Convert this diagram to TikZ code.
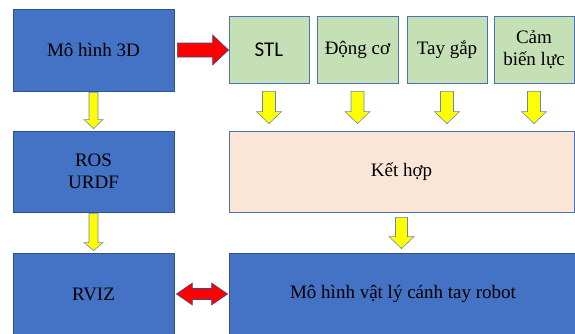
\documentclass[tikz,border=0pt]{standalone}
\usepackage{fontspec}
\setmainfont{Liberation Serif}
\newfontfamily\calib{Carlito}
\usetikzlibrary{calc}
\definecolor{bfill}{HTML}{4472C4}
\definecolor{bdraw}{HTML}{2F528F}
\definecolor{gfill}{HTML}{C5E0B4}
\definecolor{pfill}{HTML}{FBE5D6}
\definecolor{ldraw}{HTML}{4A72B8}
\definecolor{yfill}{HTML}{FFFF00}
\definecolor{ydraw}{HTML}{6A86B8}
\definecolor{rfill}{HTML}{FF0000}
\tikzset{
  boxbase/.style={rectangle, inner sep=0pt, line width=0.8pt, align=center,
    font=\fontsize{19}{21.5}\selectfont, text=black},
  bluebox/.style={boxbase, fill=bfill, draw=bdraw},
  greenbox/.style={boxbase, fill=gfill, draw=ldraw},
  peachbox/.style={boxbase, fill=pfill, draw=ldraw},
  yarr/.style={fill=yfill, draw=ydraw, line width=0.6pt, line join=miter},
  rarr/.style={fill=rfill, draw=bdraw, line width=0.6pt, line join=miter},
}
% down block arrow: style, top point, bottom point, shaft half, head half, head length
\newcommand\blockdown[6]{%
  \draw[#1] let \p1=#2, \p2=#3 in
    (\x1-#4pt,\y1) -- (\x1+#4pt,\y1) -- (\x1+#4pt,\y2+#6pt) -- (\x1+#5pt,\y2+#6pt)
    -- (\x1,\y2) -- (\x1-#5pt,\y2+#6pt) -- (\x1-#4pt,\y2+#6pt) -- cycle;}
% right block arrow
\newcommand\blockright[6]{%
  \draw[#1] let \p1=#2, \p2=#3 in
    (\x1,\y1+#4pt) -- (\x2-#6pt,\y1+#4pt) -- (\x2-#6pt,\y1+#5pt) -- (\x2,\y1)
    -- (\x2-#6pt,\y1-#5pt) -- (\x2-#6pt,\y1-#4pt) -- (\x1,\y1-#4pt) -- cycle;}
% double block arrow
\newcommand\blockboth[6]{%
  \draw[#1] let \p1=#2, \p2=#3 in
    (\x1,\y1) -- (\x1+#6pt,\y1+#5pt) -- (\x1+#6pt,\y1+#4pt) -- (\x2-#6pt,\y1+#4pt)
    -- (\x2-#6pt,\y1+#5pt) -- (\x2,\y1) -- (\x2-#6pt,\y1-#5pt) -- (\x2-#6pt,\y1-#4pt)
    -- (\x1+#6pt,\y1-#4pt) -- (\x1+#6pt,\y1-#5pt) -- cycle;}
\begin{document}
\begin{tikzpicture}[x=1pt,y=-1pt]
\useasboundingbox (0,0) rectangle (575,333);
% boxes
\node[bluebox, minimum width=161pt, minimum height=82pt] (m3d) at (93.5,50) {Mô hình 3D};
\node[greenbox, minimum width=80pt, minimum height=67pt, font=\calib\fontsize{21}{23}\selectfont] (stl) at (269,49.5) {STL};
\node[greenbox, minimum width=81pt, minimum height=67pt] (dc) at (357.5,49.5) {Động cơ};
\node[greenbox, minimum width=80pt, minimum height=67pt] (tg) at (447,49.5) {Tay gắp};
\node[greenbox, minimum width=80pt, minimum height=67pt] (cb) at (534,49.5) {Cảm\\biến lực};
\node[bluebox, minimum width=161pt, minimum height=81pt] (ros) at (93.5,171.5) {ROS\\URDF};
\node[peachbox, minimum width=345pt, minimum height=81pt] (kh) at (401.5,171.5) {Kết hợp};
\node[bluebox, minimum width=161pt, minimum height=82pt] (rviz) at (93.5,294) {RVIZ};
\node[bluebox, minimum width=348pt, minimum height=82pt] (mvl) at (403,294) {Mô hình vật lý cánh tay robot};
% arrows
\blockright{rarr}{($(m3d.east)+(3,0)$)}{(stl.west)}{7}{15}{16}
\blockboth{rarr}{($(rviz.east)+(2,0)$)}{($(mvl.west)+(-1,0)$)}{5.5}{11}{16}
\blockdown{yarr}{($(m3d.south)+(0,1)$)}{($(ros.north)+(0,-2)$)}{4.5}{9.5}{9}
\blockdown{yarr}{($(ros.south)+(0,1)$)}{($(rviz.north)+(0,-2)$)}{4.5}{9.5}{8}
\blockdown{yarr}{($(kh.south)+(0,5)$)}{($(mvl.north)+(0,-4)$)}{6}{12.5}{12}
\blockdown{yarr}{($(stl.south)+(0,8)$)}{($(kh.north)+(0,-7)$)}{6.5}{12.5}{12}
\blockdown{yarr}{($(dc.south)+(0,8)$)}{($(kh.north)+(0,-7)$)}{6.5}{12.5}{12}
\blockdown{yarr}{($(tg.south)+(0,8)$)}{($(kh.north)+(0,-7)$)}{6.5}{12.5}{12}
\blockdown{yarr}{($(cb.south)+(0,8)$)}{($(kh.north)+(0,-7)$)}{6.5}{12.5}{12}
\end{tikzpicture}
\end{document}
